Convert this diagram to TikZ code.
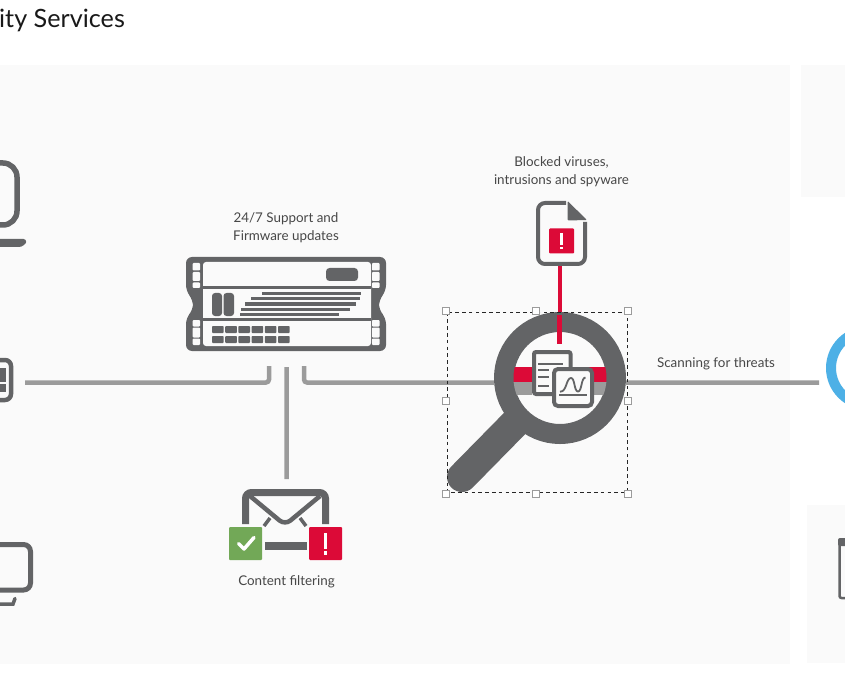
\documentclass[tikz,border=0pt]{standalone}
\usepackage{fontspec}
\setmainfont{Lato}
\usetikzlibrary{positioning}
\definecolor{icongray}{HTML}{636466}
\definecolor{wiregray}{HTML}{9B9B9B}
\definecolor{alertred}{HTML}{DC0A37}
\definecolor{okgreen}{HTML}{72A857}
\definecolor{panelgray}{HTML}{FAFAFA}
\definecolor{ringblue}{HTML}{4DB0E6}
\definecolor{labelgray}{HTML}{474747}
\tikzset{
	wire/.style={draw=wiregray,line width=4.5pt,rounded corners=3pt},
	redwire/.style={draw=alertred,line width=4pt},
	icon/.style={draw=icongray,line width=4.5pt,rounded corners=6pt},
	caption/.style={text=labelgray,font=\fontsize{13.4}{18}\selectfont,align=center,inner sep=0pt},
	grip/.style={draw=wiregray,fill=white,line width=1pt,minimum size=7pt,inner sep=0pt},
	alertbox/.pic={
		\fill[alertred,rounded corners=1pt] (-12.5,-12.5) rectangle (12.5,12.5);
		\fill[white] (-1.4,-8) rectangle (1.4,4);
		\fill[white] (-1.4,5.8) rectangle (1.4,8.4);
	}
}
\begin{document}
\begin{tikzpicture}[x=1pt,y=-1pt,node distance=12pt]
	\clip (0,0) rectangle (845,684);
	\fill[white] (0,0) rectangle (845,684);
	% panels
	\fill[panelgray] (0,65) rectangle (790,664);
	\fill[panelgray] (801,65) rectangle (845,197);
	\fill[panelgray] (807,505) rectangle (845,663);
	\node[anchor=base west,inner sep=0pt,text=black!90,font=\fontsize{25.2}{28}\selectfont] (title) at (-1,28) {ity Services};

	% end points of the wires
	\coordinate (host_e) at (25,382.5);
	\coordinate (fw_l) at (269,366);
	\coordinate (fw_m) at (286.5,367);
	\coordinate (fw_r) at (304,366);
	\coordinate (mail_n) at (286.5,479);
	\coordinate (lens_w) at (494,382.5);
	\coordinate (lens_e) at (626,382.5);
	\coordinate (ring_w) at (819,382.5);
	\coordinate (file_s) at (559.5,265);
	\coordinate (lens_n) at (559.5,315);
	\coordinate (scan) at (716,382.5);
	\path[wire]
		(host_e) -| (fw_l)
		(fw_m) -- (mail_n)
		(fw_r) |- (lens_w)
		(lens_e) -- (ring_w);
	\path[redwire] (file_s) -- (lens_n);

	% clients on the left
	\draw[icon,line width=5.5pt,rounded corners=14pt] (-40,163) rectangle (17,225);
	\fill[icongray,rounded corners=3pt] (-40,239) -- (26.5,239) .. controls (26,244) and (22,247) .. (16,247) -- (-40,247) -- cycle;
	\draw[icon] (-30,360) rectangle (11,400);
	\fill[icongray] (-30,368) rectangle (6,381.5);
	\fill[icongray] (-30,384) rectangle (6,392);
	\draw[icon,line width=5pt,rounded corners=7pt] (-30,544.5) rectangle (30.5,590);
	\draw[icongray,line width=3.5pt,line cap=round] (-30,604) -- (13,604) -- (15,598.5);

	% firewall
	\node[minimum width=200pt,minimum height=94pt,inner sep=0pt] (fw) at (286,304) {};
	\fill[icongray,rounded corners=6pt] (186,257) -- (386,257) -- (386,291) -- (379,300) -- (379,310) -- (386,318) -- (386,351)
		-- (186,351) -- (186,318) -- (193,310) -- (193,300) -- (186,291) -- cycle;
	\foreach \x/\w in {192.7/7.3,372/7.5} {
		\foreach \y/\h in {263/7.5,272/9,282.5/5.5,320/6.5,327.5/10,338.5/6.5}
			\fill[panelgray,rounded corners=.8pt] (\x,\y) rectangle ++(\w,\h);
	}
	\fill[panelgray,rounded corners=3pt] (203,262) rectangle (371,346);
	\fill[icongray] (203,286.5) rectangle (371,289);
	\fill[icongray] (203,318) rectangle (371,320.5);
	\fill[icongray,rounded corners=3.5pt] (326,268) rectangle (358,281);
	\fill[icongray,rounded corners=3pt] (212,293) rectangle (222,316);
	\fill[icongray,rounded corners=3pt] (223.5,293) rectangle (234,316);
	\foreach \y/\a/\b in {294/262/361,299/251/360,304/245/356,309/241/350,314/240/339}
		\draw[icongray,line width=3pt] (\a,\y) -- (\b,\y);
	\foreach \i in {0,...,5} {
		\fill[icongray,rounded corners=.8pt] (212+13.2*\i,326) rectangle ++(11.6,7);
		\fill[icongray,rounded corners=.8pt] (212+13.2*\i,336) rectangle ++(11.6,7);
	}
	\node[caption,above=of fw,yshift=1.5pt] (fw_label) {24/7 Support and\\Firmware updates};

	% blocked file
	\node[minimum width=51pt,minimum height=65pt,inner sep=0pt] (file) at (561.5,233.5) {};
	\draw[icon,line width=4pt,rounded corners=7pt] (566,203) -- (538,203) -- (538,264) -- (585,264) -- (585,222);
	\fill[icongray,rounded corners=1pt] (567.5,201) -- (587,220) -- (567.5,220.5) -- cycle;
	\pic at (561.5,241) {alertbox};
	\node[caption,above=of file,yshift=1.5pt] (file_label) {Blocked viruses,\\intrusions and spyware};

	% mail
	\node[minimum width=87pt,minimum height=35pt,inner sep=0pt] (mail) at (285.5,506.5) {};
	\draw[icon,line width=7pt,rounded corners=6pt] (245.5,524) -- (245.5,492.5) -- (325.5,492.5) -- (325.5,524);
	\draw[icongray,line width=4.5pt,rounded corners=7pt] (250,496) -- (285,525) -- (320,496);
	\draw[icongray,line width=3.5pt] (264,526) -- (270,518) (306,526) -- (300,518);
	\fill[okgreen,rounded corners=1pt] (229,527) rectangle (262,560);
	\draw[white,line width=3.5pt,line cap=round,line join=round] (238.5,543.5) -- (244,549) -- (254,537.5);
	\fill[icongray] (265,542) rectangle (307,549.5);
	\pic[scale=1.32] at (325.5,543.5) {alertbox};
	\node[caption,inner sep=0pt] (mail_label) at (286.5,581.5) {Content filtering};

	% magnifier
	\draw[icongray,line width=30pt,line cap=round] (462,477) -- (520,418);
	\node[circle,draw=icongray,fill=panelgray,line width=20pt,minimum size=112pt,inner sep=0pt] (lens) at (560,378) {};
	\begin{scope}
		\clip (560,378) circle (46.5);
		\fill[alertred] (510,367) rectangle (610,382);
		\fill[wiregray] (510,382) rectangle (610,395);
	\end{scope}
	\draw[redwire,line width=4.5pt] (lens_n) -- (559.5,344);
	\fill[panelgray] (532,350) rectangle (572,395);
	\draw[icongray,line width=4pt,rounded corners=2pt] (570.5,372) -- (570.5,352) -- (534,352) -- (534,394) -- (552,394);
	\foreach \y/\b in {364/563,370/549,377/549,386/549}
		\draw[icongray,line width=1.3pt] (538,\y) -- (\b,\y);
	\node[draw=icongray,fill=panelgray,line width=4pt,rounded corners=4pt,minimum width=38pt,minimum height=37pt,inner sep=0pt] (chart) at (573,387.5) {};
	\draw[icongray,line width=1.8pt] (560,391.7) .. controls (567,392) and (566,378) .. (571,378) .. controls (575,378) and (574,391.5) .. (578,391.5) .. controls (582,391.5) and (581,377.5) .. (585.5,377.5);
	\draw[icongray,line width=1.2pt] (559,395) -- (587,395);

	% selection frame
	\draw[black!85,line width=1pt,dash pattern=on 3.6pt off 3.2pt] (447,312.5) rectangle (627,492);
	\foreach \n/\x/\y in {a/445.5/311,b/535.5/311,c/628/311,d/445.5/401,e/628/401,f/445.5/493.5,g/535.5/493.5,h/628/493.5}
		\node[grip] (grip_\n) at (\x,\y) {};

	\node[caption,above=12pt of scan] (scan_label) {Scanning for threats};

	% right side
	\node[circle,draw=ringblue,line width=10pt,minimum size=74pt,inner sep=0pt] (ring) at (868,368) {};
	\fill[icongray,rounded corners=2pt] (838,538) rectangle (860,546);
	\draw[icongray,line width=2.5pt,rounded corners=2pt] (860,541) -- (839.5,541) -- (839.5,598) -- (860,598);
\end{tikzpicture}
\end{document}
